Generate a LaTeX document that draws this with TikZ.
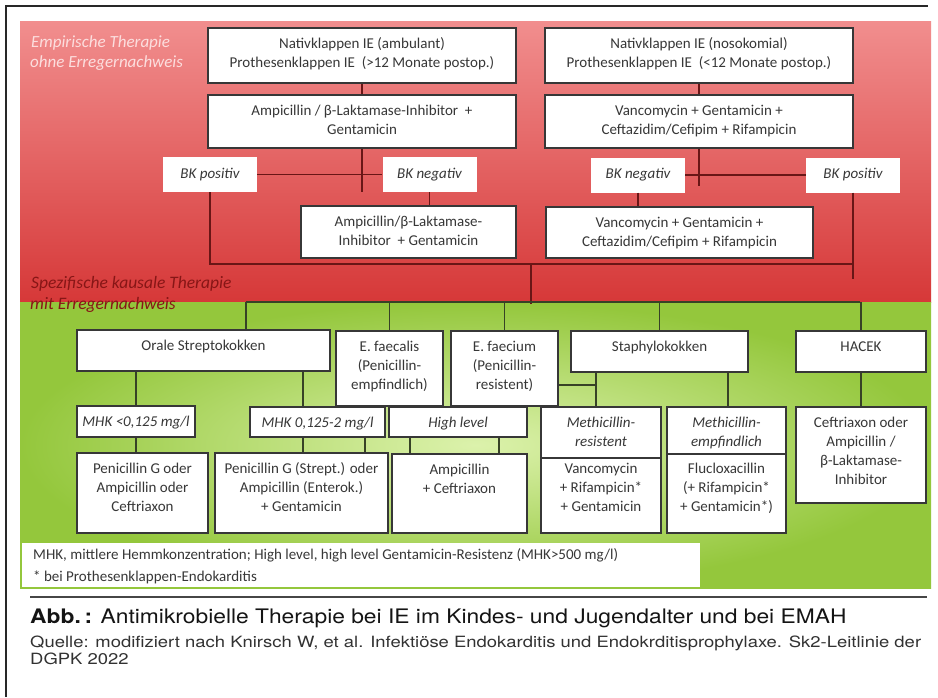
\documentclass[tikz,border=0pt]{standalone}
\usepackage{fontspec}
\usepackage{graphicx}
\setmainfont{Carlito}
\newfontfamily\capfont{TeX Gyre Heros}
\usetikzlibrary{calc}
\definecolor{redtop}{RGB}{241,142,142}
\definecolor{redmid}{RGB}{233,108,108}
\definecolor{redbot}{RGB}{214,56,56}
\definecolor{grin}{RGB}{220,242,172}
\definecolor{grout}{RGB}{148,199,60}
\definecolor{rcol}{RGB}{105,22,22}
\definecolor{gcol}{RGB}{55,66,38}
\definecolor{boxline}{RGB}{55,55,55}
\definecolor{txt}{RGB}{55,55,55}
\definecolor{headw}{RGB}{252,222,222}
\definecolor{headr}{RGB}{135,22,22}
\definecolor{framecol}{RGB}{40,40,40}
\definecolor{rulecol}{RGB}{70,70,70}
\definecolor{captxt}{RGB}{20,20,20}
\definecolor{srctxt}{RGB}{50,50,50}

\newcommand\firstbl{20pt}
\newcommand\bx[7][]{%
  \node[bx,#1,minimum width={#5-#3},minimum height={#6-#4}] (#2) at ({(#3+#5)/2},{(#4+#6)/2})
   {\parbox[c][\dimexpr #6pt-#4pt\relax][t]{\dimexpr #5pt-#3pt-4pt\relax}{\centering\rule{0pt}{\firstbl}#7\par}};%
}

\begin{document}
\begin{tikzpicture}[x=1pt,y=-1pt,
  bx/.style={draw=boxline, line width=1.4pt, fill=white, inner sep=0pt, text=txt,
             font=\fontsize{15}{19}\selectfont},
  itx/.style={font=\itshape\fontsize{15}{19}\selectfont},
  bk/.style={fill=white, inner sep=0pt, text=txt, font=\itshape\fontsize{15}{18}\selectfont,
             minimum width=94, minimum height=35},
  rline/.style={draw=rcol, line width=1.5pt},
  gline/.style={draw=gcol, line width=1.5pt},
  headA/.style={anchor=base west, inner sep=0pt, text=headw, font=\itshape\fontsize{17}{19}\selectfont},
  headB/.style={anchor=base west, inner sep=0pt, text=headr, font=\itshape\fontsize{17.5}{19}\selectfont},
]
\useasboundingbox (0,0) rectangle (938,697);
\fill[white] (0,0) rectangle (938,697);
% page frame
\draw[framecol, line width=1.5pt] (5,6) -- (928,6);
\draw[framecol, line width=1.5pt] (6,6) -- (6,697);
% panels
\shade[top color=redtop, middle color=redmid, bottom color=redbot] (20,21) rectangle (931,302);
\shade[inner color=grin, outer color=grout] (20,302) rectangle (931,588);

% headings
\node[headA] (h1a) at (31,47) {Empirische Therapie};
\node[headA] (h1b) at (30,67) {ohne Erregernachweis};

% red section boxes
\bx{A}{208}{28}{516}{83}{Nativklappen IE (ambulant)\\Prothesenklappen IE~~(>12 Monate postop.)}
\bx{B}{208}{95}{516}{148}{Ampicillin / β-Laktamase-Inhibitor~~+\\Gentamicin}
\bx{C}{545}{28}{853}{83}{Nativklappen IE (nosokomial)\\Prothesenklappen IE~~(<12 Monate postop.)}
\bx{D}{545}{95}{853}{148}{Vancomycin + Gentamicin +\\Ceftazidim/Cefipim + Rifampicin}
\node[bk] (BKpL) at (210,174.5) {BK positiv};
\node[bk] (BKnL) at (429.5,174.5) {BK negativ};
\node[bk] (BKnR) at (638,175) {BK negativ};
\node[bk] (BKpR) at (853,175) {BK positiv};
\bx{E}{301}{206}{516}{258}{Ampicillin/β-Laktamase-\\Inhibitor~~+ Gentamicin}
\bx{F}{546}{207}{813}{258}{Vancomycin + Gentamicin +\\Ceftazidim/Cefipim + Rifampicin}

% red connectors
\coordinate (hl) at (0,264);
\coordinate (r1) at (531,264);
\coordinate (g0) at (531,304);
\draw[rline] (A.south) -- (B.north);
\draw[rline] (C.south) -- (D.north);
\draw[rline] (B.south) -- (B.south |- BKnL.south);
\draw[rline] (D.south) -- ++(0,37);
\draw[rline] (BKpL.east) -- (BKnL.west);
\draw[rline] (BKnR.east) -- (BKpR.west);
\draw[rline] (BKnL.south) -- (BKnL.south |- E.north);
\draw[rline] (BKnR.south) -- (BKnR.south |- F.north);
\draw[rline] (BKpL.south) |- (BKpR.south |- hl);
\draw[rline] (BKpR.south) -- ++(0,86);
\draw[rline] (r1) -- (g0);

% green section boxes
\bx{Orale}{77}{330}{330}{371}{Orale Streptokokken}
\bx{Efs}{336}{331}{443}{406}{E. faecalis\\(Penicillin-\\empfindlich)}
\bx{Efm}{451}{331}{558}{406}{E. faecium\\(Penicillin-\\resistent)}
\bx{Staph}{571}{331}{748}{372}{Staphylokokken}
\bx{HACEK}{796}{331}{926}{372}{HACEK}
\bx[itx]{MHKa}{77}{406}{195}{437}{MHK <0,125 mg/l}
\bx[itx]{MHKb}{250}{407}{385}{437}{MHK 0,125-2 mg/l}
\bx[itx]{HL}{389}{407}{527}{437}{High level}
\bx[itx]{MR}{541}{407}{661}{458}{Methicillin-\\resistent}
{\renewcommand\firstbl{15pt}\bx{MRb}{541}{458}{661}{533}{Vancomycin\\+ Rifampicin*\\+ Gentamicin}}
\bx[itx]{ME}{667}{407}{786}{454}{Methicillin-\\empfindlich}
{\renewcommand\firstbl{19pt}\bx{MEb}{667}{454}{786}{533}{Flucloxacillin\\(+ Rifampicin*\\+ Gentamicin*)}}
\bx{HR}{796}{407}{926}{503}{Ceftriaxon oder\\Ampicillin /\\β-Laktamase-\\Inhibitor}
\bx{PenG}{77}{453}{208}{533}{Penicillin G oder\\Ampicillin oder\\Ceftriaxon}
\bx{PenGS}{215}{453}{388}{533}{Penicillin G (Strept.) oder\\Ampicillin (Enterok.)\\+ Gentamicin}
\bx{Amp}{392}{454}{527}{533}{Ampicillin\\+ Ceftriaxon}

% green connectors
\coordinate (gL) at (246,302);
\coordinate (gR) at (860,302);
\draw[gline] (gL) -- (gR);
\draw[gline] (gL) -- (gL |- Orale.north);
\draw[gline] (Efs.north |- gL) -- (Efs.north);
\draw[gline] (Efm.north |- gL) -- (Efm.north);
\draw[gline] (Staph.north |- gL) -- (Staph.north);
\draw[gline] (HACEK.north |- gL) -- (HACEK.north);
\draw[gline] (MHKa.north |- Orale.south) -- (MHKa.north);
\draw[gline] (MHKa.south) -- (MHKa.south |- PenG.north);
\draw[gline] (303,0 |- Orale.south) -- (303,0 |- MHKb.north);
\draw[gline] (303,0 |- MHKb.south) -- (303,0 |- PenGS.north);
\draw[gline] (365,0 |- MHKb.south) -- (365,0 |- PenGS.north);
\draw[gline] (410,0 |- HL.south) -- (410,0 |- Amp.north);
\draw[gline] (499,0 |- HL.south) -- (499,0 |- Amp.north);
\draw[gline] (596,0 |- Staph.south) -- (596,0 |- MR.north);
\draw[gline] (Efm.east |- 0,385) -- (596,385);
\draw[gline] (728,0 |- Staph.south) -- (728,0 |- ME.north);
\draw[gline] (HACEK.south) -- (HR.north);

% heading over both sections
\node[headB] (h2a) at (31,288) {Spezifische kausale Therapie};
\node[headB] (h2b) at (30,309) {mit Erregernachweis};

% legend
\node[fill=white, inner sep=0pt, minimum width=678, minimum height=44, anchor=north west] (leg) at (22,543) {};
\node[anchor=base west, inner sep=0pt, text=txt, font=\fontsize{15}{22}\selectfont] (leg1) at (33,559) {MHK, mittlere Hemmkonzentration; High level, high level Gentamicin-Resistenz (MHK>500 mg/l)};
\node[anchor=base west, inner sep=0pt, text=txt, font=\fontsize{15}{22}\selectfont] (leg2) at (33,581) {* bei Prothesenklappen-Endokarditis};

% caption
\draw[rulecol, line width=2pt] (30,597) -- (927,597);
\node[anchor=base west, inner sep=0pt, text=captxt, font=\capfont\fontsize{20}{22}\selectfont] (cap) at (30,623) {\scalebox{1.14}[1]{\textbf{Abb.\,:} Antimikrobielle Therapie bei IE im Kindes- und Jugendalter und bei EMAH}};
\node[anchor=base west, inner sep=0pt, text=srctxt, font=\capfont\fontsize{15.5}{17}\selectfont] (src1) at (30,647) {\scalebox{1.19}[1]{Quelle: modifiziert nach Knirsch W, et al. Infektiöse Endokarditis und Endokrditisprophylaxe. Sk2-Leitlinie der}};
\node[anchor=base west, inner sep=0pt, text=srctxt, font=\capfont\fontsize{15.5}{17}\selectfont] (src2) at (30,664) {\scalebox{1.19}[1]{DGPK 2022}};
\end{tikzpicture}
\end{document}
